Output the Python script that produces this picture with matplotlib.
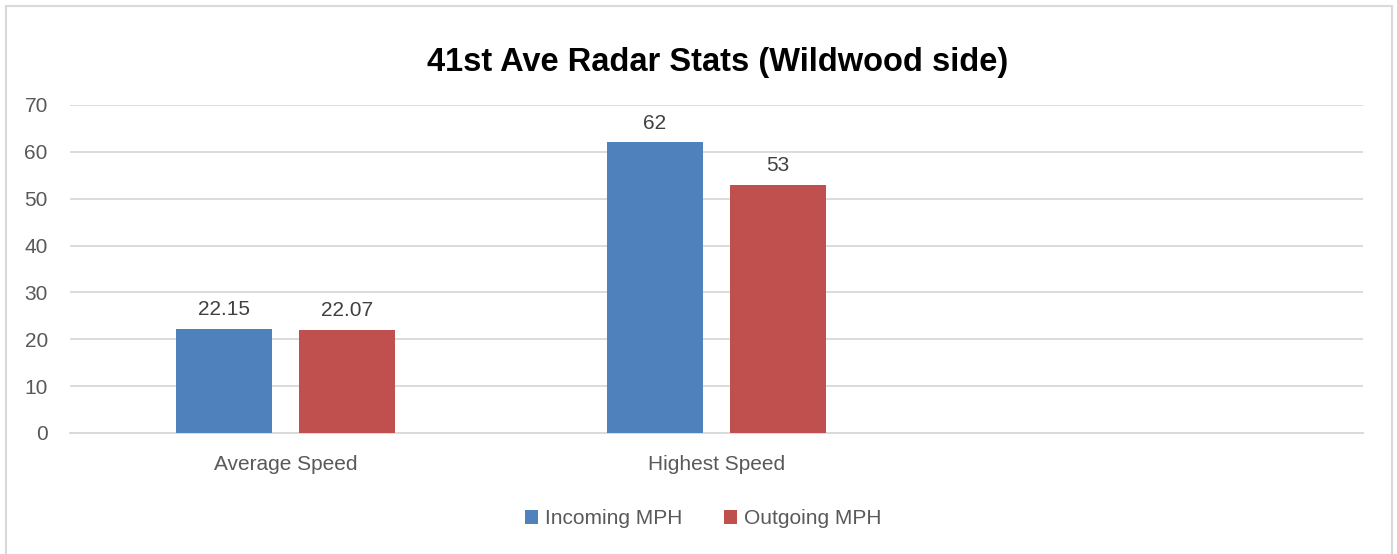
import matplotlib.pyplot as plt
from matplotlib.patches import Rectangle
import numpy as np

plt.rcParams['font.family'] = ['Liberation Sans', 'DejaVu Sans']

categories = ['Average Speed', 'Highest Speed', '']
incoming = [22.15, 62, np.nan]
outgoing = [22.07, 53, np.nan]
incoming_labels = ['22.15', '62']
outgoing_labels = ['22.07', '53']
series_names = ['Incoming MPH', 'Outgoing MPH']

blue = '#4F81BD'
red = '#C0504D'
grid_c = '#D9D9D9'
txt_c = '#595959'

fig = plt.figure(figsize=(13.97, 5.54), dpi=100)
ax = fig.add_axes([70 / 1397, 121 / 554, 1293 / 1397, 328 / 554])

x = np.arange(len(categories))
w = 0.223
off = 0.143
b1 = ax.bar(x - off, incoming, w, color=blue, label=series_names[0], zorder=3)
b2 = ax.bar(x + off, outgoing, w, color=red, label=series_names[1], zorder=3)

for bars, labs in [(b1, incoming_labels), (b2, outgoing_labels)]:
    for rect, lab in zip(bars, labs):
        ax.annotate(lab, (rect.get_x() + rect.get_width() / 2, rect.get_height()),
                    xytext=(0, 7), textcoords='offset points', ha='center', va='bottom',
                    fontsize=15, color='#404040')

ax.set_xlim(-0.5, 2.5)
ax.set_ylim(0, 70)
ax.set_yticks(range(0, 71, 10))
ax.set_xticks(x)
ax.set_xticklabels(categories)
ax.grid(axis='y', color=grid_c, linewidth=1.3, zorder=0)
for s in ['top', 'right', 'left']:
    ax.spines[s].set_visible(False)
ax.spines['bottom'].set_color(grid_c)
ax.spines['bottom'].set_linewidth(1.3)
ax.tick_params(axis='both', length=0, labelsize=15, colors=txt_c)
ax.tick_params(axis='y', pad=16)
ax.tick_params(axis='x', pad=16)

fig.text(718 / 1397, 1 - 62 / 554, '41st Ave Radar Stats (Wildwood side)',
         ha='center', va='center', fontsize=23.5, fontweight='bold', color='black')

fig.legend(loc='center', bbox_to_anchor=(703 / 1397, 1 - 519 / 554), ncol=2,
           frameon=False, fontsize=15, labelcolor=txt_c, handlelength=0.65,
           handleheight=0.65, handletextpad=0.3, columnspacing=2.0)

fig.patches.append(Rectangle((6 / 1397, -0.05), 1386 / 1397, 1.05 - 6 / 554,
                             transform=fig.transFigure, fill=False,
                             edgecolor=grid_c, linewidth=1.5))

fig.savefig('out.png', dpi=100)
